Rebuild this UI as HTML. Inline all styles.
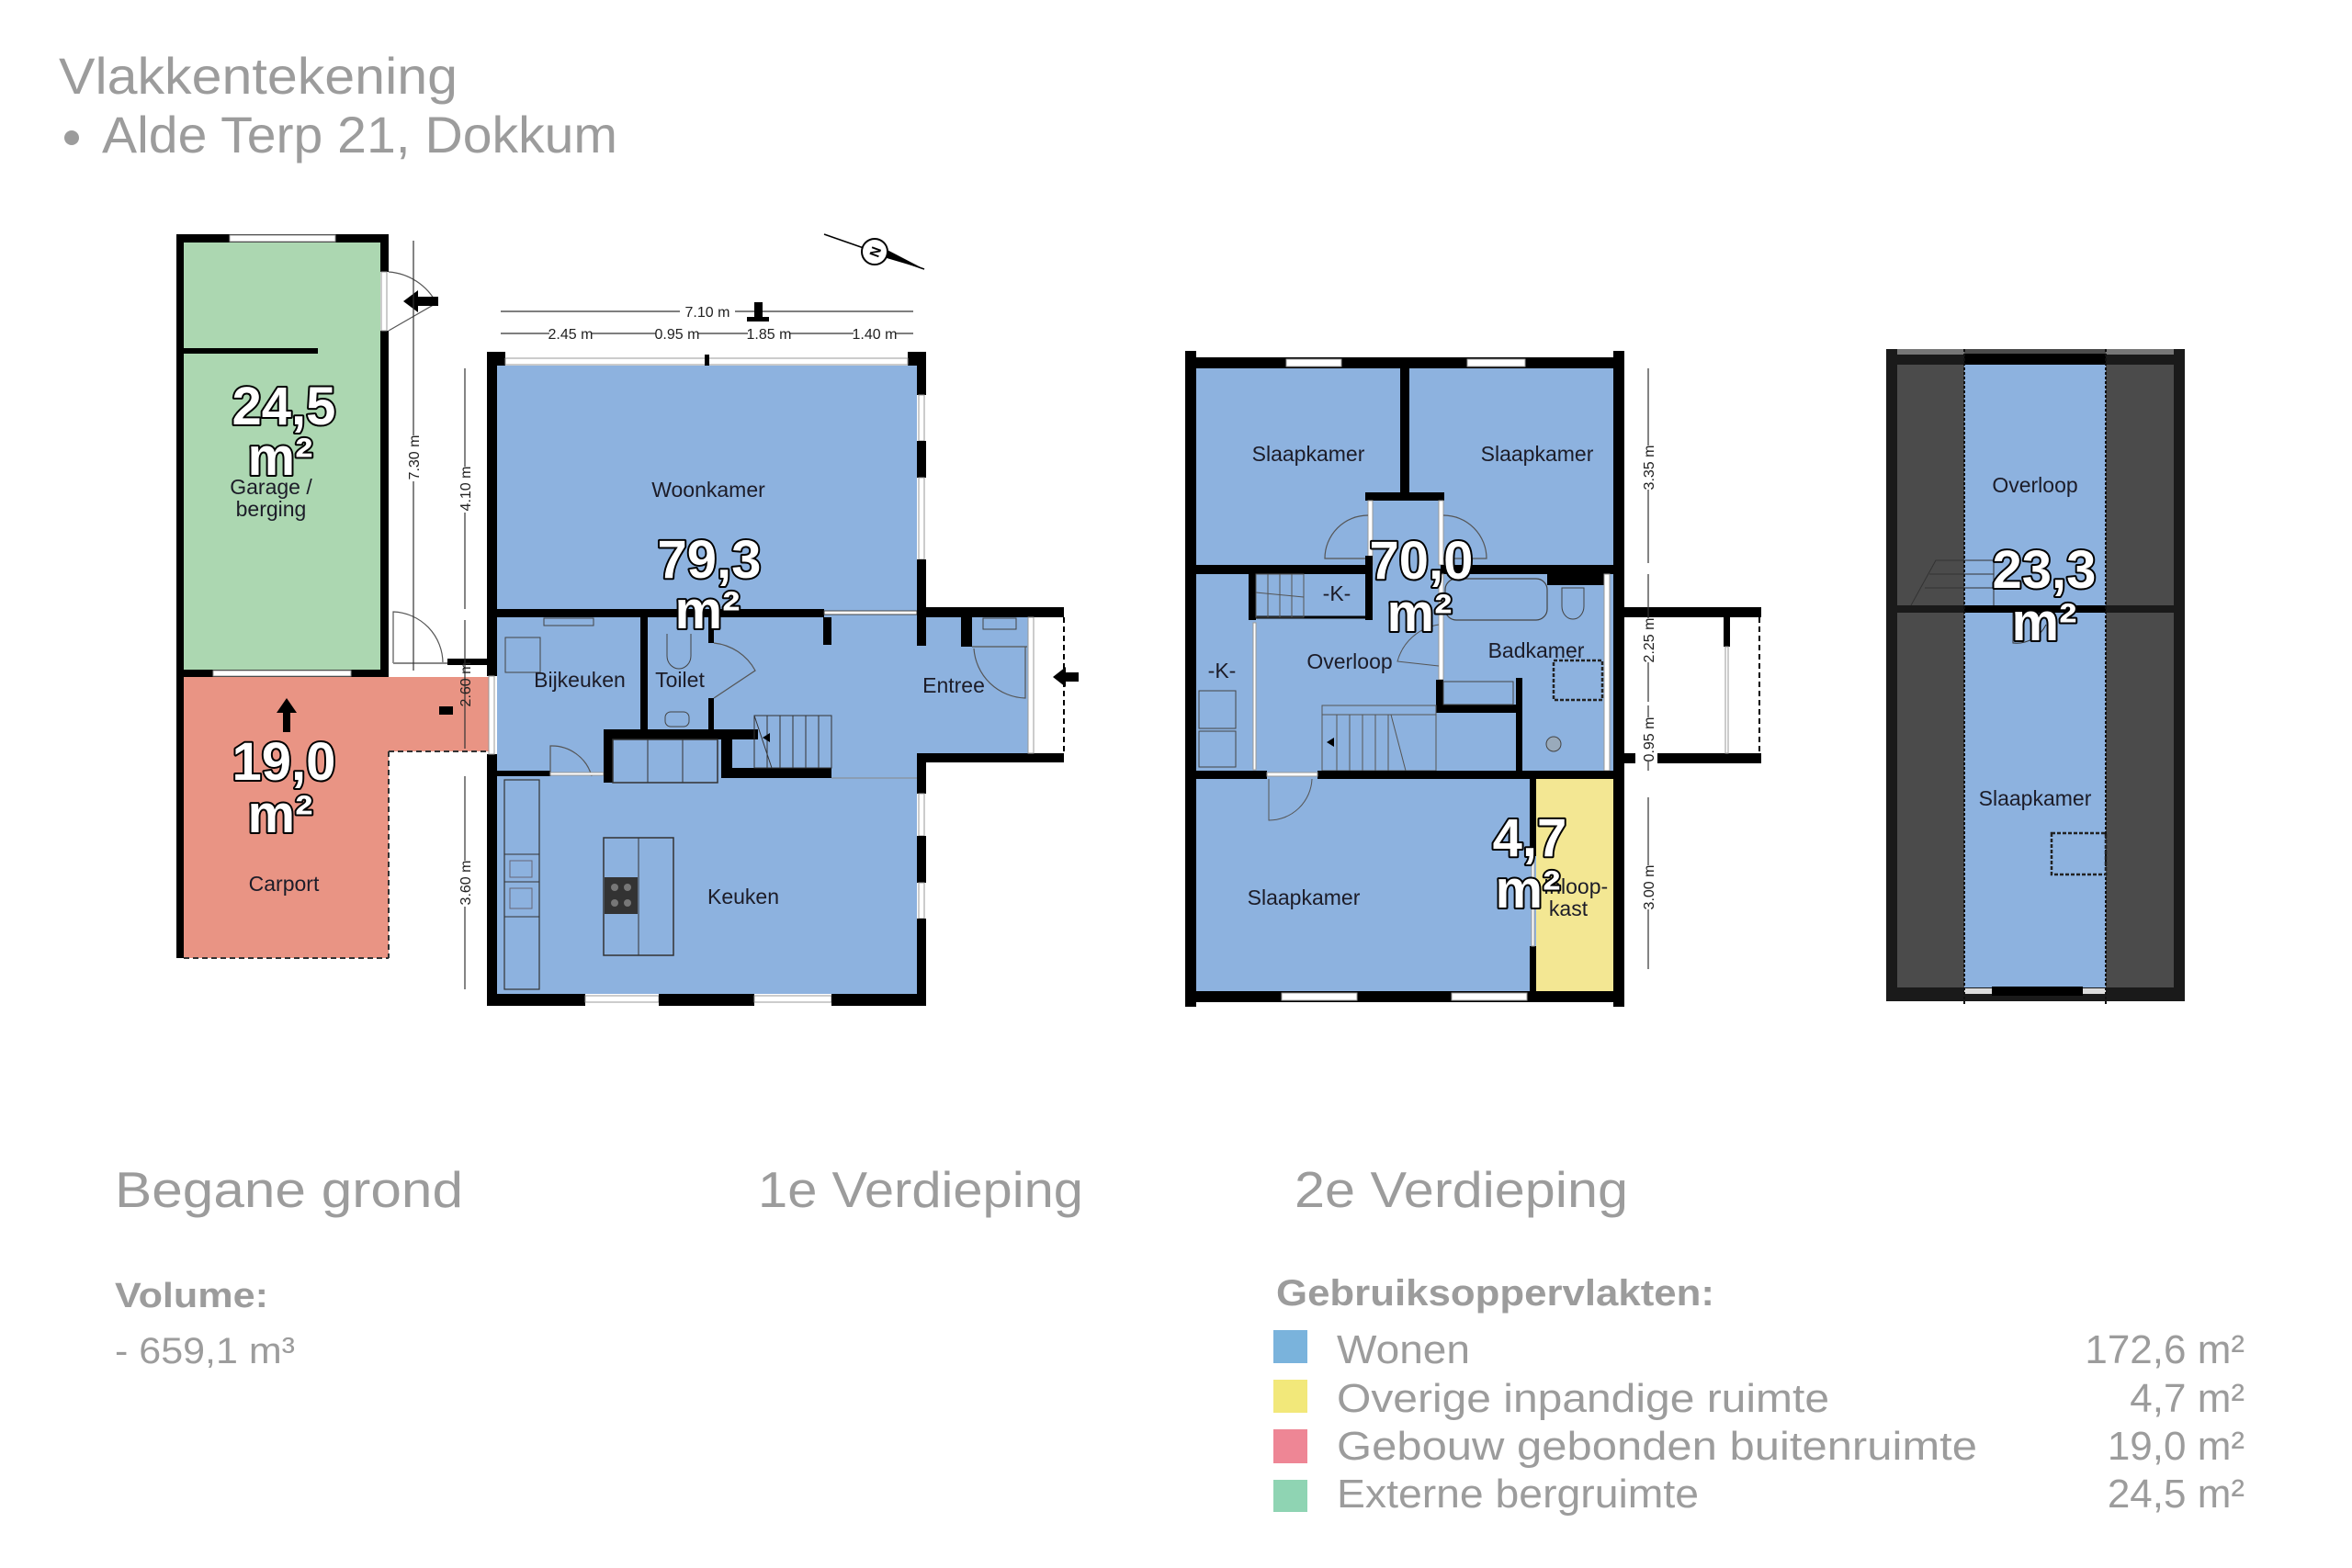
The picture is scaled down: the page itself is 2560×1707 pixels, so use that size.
<!DOCTYPE html>
<html><head><meta charset="utf-8"><style>
html,body{margin:0;padding:0;background:#fff;}
svg{display:block;}
.t{font-family:"Liberation Sans",sans-serif;}
.room{font-family:"Liberation Sans",sans-serif;font-size:23px;fill:#1c1c28;text-anchor:middle;}
.big{font-family:"Liberation Sans",sans-serif;font-weight:bold;font-size:58px;fill:#fff;stroke:#000;stroke-width:4;paint-order:stroke;stroke-linejoin:round;text-anchor:middle;}
.dim{font-family:"Liberation Sans",sans-serif;font-size:16px;fill:#222;}
.gl{fill:#fff;stroke:#999;stroke-width:1;}
</style></head><body>
<svg width="2560" height="1707" viewBox="0 0 2560 1707" xmlns="http://www.w3.org/2000/svg">
<rect width="2560" height="1707" fill="#fff"/>
<!-- Title -->
<text class="t" x="64" y="102" font-size="56" fill="#9c9c9c" textLength="434" lengthAdjust="spacingAndGlyphs">Vlakkentekening</text>
<circle cx="78" cy="150" r="8" fill="#9c9c9c"/>
<text class="t" x="111" y="166" font-size="56" fill="#9c9c9c" textLength="561" lengthAdjust="spacingAndGlyphs">Alde Terp 21, Dokkum</text>

<!-- ============ GROUND FLOOR ============ -->
<rect x="200" y="264" width="214" height="466" fill="#acd7b1"/>
<polygon points="200,737 532,737 532,818 423,818 423,1043 200,1043" fill="#e99484"/>
<path d="M423,818 H532 M423,818 V1043 M200,1043 H423" stroke="#333" stroke-width="2" stroke-dasharray="6,4" fill="none"/>
<!-- garage walls -->
<rect x="192" y="255" width="8" height="788" fill="#000"/>
<rect x="192" y="255" width="231" height="9" fill="#000"/>
<rect x="250" y="256" width="115" height="7" class="gl"/>
<rect x="414" y="255" width="9" height="41" fill="#000"/>
<rect x="414" y="360" width="9" height="377" fill="#000"/>
<rect x="415" y="296" width="6" height="64" class="gl"/>
<path d="M423,296 A64,64 0 0 1 475,330 L423,360" stroke="#555" stroke-width="1.2" fill="none"/>
<rect x="200" y="379" width="146" height="6" fill="#000"/>
<rect x="200" y="729" width="223" height="8" fill="#000"/>
<rect x="232" y="730" width="150" height="6" class="gl"/>
<!-- side door -->
<path d="M428,722 V666 A56,56 0 0 1 482,722" stroke="#555" stroke-width="1.2" fill="none"/>
<line x1="428" y1="722" x2="487" y2="722" stroke="#888" stroke-width="2"/>
<rect x="487" y="717" width="43" height="7" fill="#000"/>
<!-- arrows -->
<polygon points="439,328 455,316 455,323 477,323 477,333 455,333 455,340" fill="#000"/>
<polygon points="312,760 301,776 308,776 308,797 316,797 316,776 323,776" fill="#000"/>
<rect x="478" y="769" width="15" height="9" fill="#000"/>
<polygon points="1146,737 1160,726 1160,732 1174,732 1174,742 1160,742 1160,748" fill="#000"/>

<!-- main house fill -->
<polygon points="541,398 998,398 998,672 1122,672 1122,820 998,820 998,1082 541,1082" fill="#8db2df"/>
<!-- main walls -->
<rect x="530" y="383" width="11" height="353" fill="#000"/>
<rect x="530" y="821" width="11" height="274" fill="#000"/>
<rect x="532" y="736" width="6" height="85" class="gl"/>
<rect x="530" y="383" width="20" height="15" fill="#000"/>
<rect x="988" y="383" width="20" height="15" fill="#000"/>
<rect x="550" y="390" width="438" height="7" class="gl"/>
<rect x="767" y="386" width="5" height="12" fill="#000"/>
<!-- right wall -->
<rect x="998" y="383" width="10" height="47" fill="#000"/>
<rect x="1000" y="430" width="6" height="50" class="gl"/>
<rect x="998" y="480" width="10" height="40" fill="#000"/>
<rect x="1000" y="520" width="6" height="89" class="gl"/>
<rect x="998" y="609" width="10" height="63" fill="#000"/>
<rect x="998" y="672" width="10" height="31" fill="#000"/>
<rect x="998" y="820" width="10" height="44" fill="#000"/>
<rect x="1000" y="864" width="6" height="46" class="gl"/>
<rect x="998" y="910" width="10" height="51" fill="#000"/>
<rect x="1000" y="961" width="6" height="39" class="gl"/>
<rect x="998" y="1000" width="10" height="95" fill="#000"/>
<!-- bottom wall -->
<rect x="530" y="1082" width="107" height="13" fill="#000"/>
<rect x="637" y="1084" width="80" height="7" class="gl"/>
<rect x="717" y="1082" width="104" height="13" fill="#000"/>
<rect x="821" y="1084" width="84" height="7" class="gl"/>
<rect x="905" y="1082" width="103" height="13" fill="#000"/>
<!-- middle wall -->
<rect x="541" y="663" width="356" height="9" fill="#000"/>
<rect x="897" y="665" width="101" height="4" fill="#fff" stroke="#444" stroke-width="1"/>
<rect x="896" y="672" width="9" height="30" fill="#000"/>
<rect x="697" y="672" width="8" height="122" fill="#000"/>
<rect x="771" y="672" width="6" height="28" fill="#000"/>
<rect x="771" y="760" width="6" height="34" fill="#000"/>
<path d="M777,700 A58,58 0 0 1 822,730 L777,760" stroke="#555" stroke-width="1.2" fill="none"/>
<!-- entree extension -->
<rect x="998" y="661" width="160" height="11" fill="#000"/>
<rect x="998" y="820" width="160" height="10" fill="#000"/>
<rect x="1046" y="672" width="12" height="32" fill="#000"/>
<rect x="1119" y="672" width="6" height="148" class="gl"/>
<line x1="1158" y1="672" x2="1158" y2="820" stroke="#000" stroke-width="2" stroke-dasharray="6,4"/>
<path d="M1058,704 L1118,704 M1060,706 A58,58 0 0 0 1116,760 L1116,704" stroke="#555" stroke-width="1.2" fill="none"/>
<rect x="1070" y="673" width="36" height="12" fill="#8db2df" stroke="#444" stroke-width="1"/>
<!-- bijkeuken bits -->
<rect x="592" y="673" width="54" height="8" fill="none" stroke="#444" stroke-width="1"/>
<rect x="550" y="694" width="38" height="38" fill="none" stroke="#444" stroke-width="1"/>
<path d="M726,690 v24 a13,14 0 0 0 26,0 v-24" stroke="#444" fill="none"/>
<rect x="724" y="775" width="26" height="16" rx="6" fill="none" stroke="#444"/>
<rect x="541" y="839" width="58" height="6" fill="#000"/>
<path d="M599,845 V812 A45,45 0 0 1 644,845" stroke="#555" stroke-width="1.2" fill="none"/>
<rect x="599" y="841" width="58" height="3" class="gl"/>
<!-- counter block -->
<rect x="657" y="794" width="10" height="58" fill="#000"/>
<rect x="657" y="794" width="168" height="11" fill="#000"/>
<rect x="667" y="805" width="114" height="47" fill="#8db2df" stroke="#333" stroke-width="1.5"/>
<line x1="705" y1="805" x2="705" y2="852" stroke="#333"/>
<line x1="743" y1="805" x2="743" y2="852" stroke="#333"/>
<rect x="785" y="797" width="12" height="48" fill="#000"/>
<rect x="785" y="836" width="120" height="11" fill="#000"/>
<!-- stairs -->
<g stroke="#333" stroke-width="1" fill="none">
<rect x="821" y="779" width="84" height="57"/>
<line x1="835" y1="779" x2="835" y2="836"/><line x1="849" y1="779" x2="849" y2="836"/><line x1="863" y1="779" x2="863" y2="836"/><line x1="877" y1="779" x2="877" y2="836"/><line x1="891" y1="779" x2="891" y2="836"/>
<line x1="821" y1="779" x2="840" y2="836"/>
</g>
<polygon points="830,803 838,798 838,808" fill="#000"/>
<line x1="905" y1="847" x2="998" y2="847" stroke="#888" stroke-width="1"/>
<!-- kitchen -->
<rect x="549" y="849" width="38" height="228" fill="#8db2df" stroke="#333" stroke-width="1.2"/>
<line x1="549" y1="930" x2="587" y2="930" stroke="#333"/><line x1="549" y1="960" x2="587" y2="960" stroke="#333"/><line x1="549" y1="998" x2="587" y2="998" stroke="#333"/>
<rect x="555" y="937" width="24" height="18" fill="none" stroke="#667"/>
<rect x="555" y="967" width="24" height="22" fill="none" stroke="#667"/>
<rect x="657" y="912" width="76" height="128" fill="#8db2df" stroke="#333" stroke-width="1.5"/>
<line x1="695" y1="912" x2="695" y2="1040" stroke="#333"/>
<rect x="658" y="955" width="36" height="40" fill="#333"/>
<circle cx="669" cy="966" r="4" fill="#777"/><circle cx="683" cy="966" r="4" fill="#777"/><circle cx="669" cy="983" r="4" fill="#777"/><circle cx="683" cy="983" r="4" fill="#777"/>

<!-- dimension lines ground -->
<g stroke="#333" stroke-width="1.2">
<line x1="545" y1="339" x2="994" y2="339"/>
<line x1="545" y1="363" x2="994" y2="363"/>
<line x1="450" y1="262" x2="450" y2="730"/>
<line x1="506" y1="401" x2="506" y2="663"/>
<line x1="506" y1="675" x2="506" y2="815"/>
<line x1="506" y1="845" x2="506" y2="1077"/>
</g>
<rect x="740" y="330" width="60" height="18" fill="#fff"/>
<text class="dim" x="770" y="345" text-anchor="middle">7.10 m</text>
<rect x="821" y="329" width="9" height="20" fill="#000"/><rect x="813" y="345" width="24" height="5" fill="#000"/>
<rect x="598" y="354" width="46" height="18" fill="#fff"/><text class="dim" x="621" y="369" text-anchor="middle">2.45 m</text>
<rect x="714" y="354" width="46" height="18" fill="#fff"/><text class="dim" x="737" y="369" text-anchor="middle">0.95 m</text>
<rect x="814" y="354" width="46" height="18" fill="#fff"/><text class="dim" x="837" y="369" text-anchor="middle">1.85 m</text>
<rect x="929" y="354" width="46" height="18" fill="#fff"/><text class="dim" x="952" y="369" text-anchor="middle">1.40 m</text>
<rect x="441" y="474" width="18" height="50" fill="#fff"/><text class="dim" transform="translate(456,498) rotate(-90)" text-anchor="middle">7.30 m</text>
<rect x="497" y="508" width="18" height="50" fill="#fff"/><text class="dim" transform="translate(512,532) rotate(-90)" text-anchor="middle">4.10 m</text>
<text class="dim" transform="translate(512,745) rotate(-90)" text-anchor="middle">2.60 m</text>
<rect x="497" y="937" width="18" height="50" fill="#fff"/><text class="dim" transform="translate(512,961) rotate(-90)" text-anchor="middle">3.60 m</text>
<!-- compass -->
<line x1="897" y1="255" x2="1006" y2="293" stroke="#000" stroke-width="1.5"/>
<polygon points="955,278 1006,293 958,268" fill="#000"/>
<circle cx="952" cy="274" r="14" fill="#fff" stroke="#000" stroke-width="2"/>
<text class="t" x="952" y="280" font-size="15" font-weight="bold" text-anchor="middle" transform="rotate(-70 952 274)">N</text>

<!-- ground labels -->
<text class="big" x="309" y="462">24,5</text>
<text class="big" x="305" y="517">m²</text>
<text class="room" x="295" y="538">Garage /</text>
<text class="room" x="295" y="562">berging</text>
<text class="big" x="309" y="849">19,0</text>
<text class="big" x="305" y="906">m²</text>
<text class="room" x="309" y="970">Carport</text>
<text class="room" x="771" y="541">Woonkamer</text>
<text class="big" x="772" y="629">79,3</text>
<text class="big" x="770" y="684">m²</text>
<text class="room" x="631" y="748">Bijkeuken</text>
<text class="room" x="740" y="748">Toilet</text>
<text class="room" x="1038" y="754">Entree</text>
<text class="room" x="809" y="984">Keuken</text>

<!-- ============ FIRST FLOOR ============ -->
<rect x="1302" y="401" width="454" height="678" fill="#8db2df"/>
<rect x="1672" y="848" width="84" height="231" fill="#f3e793"/>
<!-- outer walls -->
<rect x="1290" y="382" width="12" height="714" fill="#000"/>
<rect x="1756" y="382" width="12" height="714" fill="#000"/>
<rect x="1290" y="389" width="478" height="12" fill="#000"/>
<rect x="1400" y="391" width="60" height="8" class="gl"/>
<rect x="1597" y="391" width="63" height="8" class="gl"/>
<rect x="1290" y="1079" width="478" height="12" fill="#000"/>
<rect x="1395" y="1081" width="82" height="8" class="gl"/>
<rect x="1580" y="1081" width="82" height="8" class="gl"/>
<!-- inner walls -->
<rect x="1524" y="401" width="10" height="140" fill="#000"/>
<rect x="1486" y="536" width="86" height="9" fill="#000"/>
<rect x="1489" y="545" width="5" height="70" class="gl"/>
<rect x="1566" y="545" width="5" height="70" class="gl"/>
<path d="M1489,608 H1442 A47,47 0 0 1 1489,561 M1571,561 A47,47 0 0 1 1618,608 H1571" stroke="#555" stroke-width="1.2" fill="none"/>
<rect x="1302" y="615" width="192" height="10" fill="#000"/>
<rect x="1568" y="615" width="188" height="10" fill="#000"/>
<rect x="1684" y="625" width="65" height="12" fill="#000"/>
<rect x="1486" y="605" width="8" height="70" fill="#000"/>
<rect x="1359" y="625" width="8" height="50" fill="#000"/>
<line x1="1367" y1="672" x2="1490" y2="672" stroke="#000" stroke-width="3"/>
<g stroke="#555" stroke-width="1" fill="none">
<rect x="1367" y="625" width="52" height="47"/>
<line x1="1380" y1="625" x2="1380" y2="672"/><line x1="1393" y1="625" x2="1393" y2="672"/><line x1="1406" y1="625" x2="1406" y2="672"/>
<line x1="1367" y1="645" x2="1419" y2="650"/>
</g>
<rect x="1364" y="678" width="3" height="160" class="gl"/>
<rect x="1305" y="752" width="40" height="41" fill="none" stroke="#444"/>
<rect x="1305" y="796" width="40" height="39" fill="none" stroke="#444"/>
<!-- bath -->
<rect x="1573" y="630" width="111" height="45" rx="12" fill="none" stroke="#444" stroke-width="1.2"/>
<path d="M1700,640 v20 a12,14 0 0 0 24,0 v-20 z" fill="none" stroke="#444"/>
<rect x="1566" y="625" width="5" height="115" class="gl"/>
<path d="M1566,680 A55,55 0 0 0 1521,720 L1566,725" stroke="#555" fill="none"/>
<rect x="1746" y="625" width="6" height="214" class="gl" />
<rect x="1563" y="740" width="8" height="36" fill="#000"/>
<rect x="1563" y="767" width="94" height="9" fill="#000"/>
<rect x="1571" y="742" width="76" height="25" fill="none" stroke="#444"/>
<rect x="1650" y="738" width="7" height="101" fill="#000"/>
<rect x="1691" y="719" width="53" height="43" fill="none" stroke="#222" stroke-width="2.5" stroke-dasharray="4,2"/>
<circle cx="1691" cy="810" r="8" fill="#9ab" stroke="#444"/>
<!-- stairs lower -->
<g stroke="#555" stroke-width="1" fill="none">
<rect x="1439" y="768" width="124" height="71"/>
<line x1="1439" y1="778" x2="1563" y2="778"/>
<line x1="1455" y1="778" x2="1455" y2="839"/><line x1="1469" y1="778" x2="1469" y2="839"/><line x1="1483" y1="778" x2="1483" y2="839"/><line x1="1497" y1="778" x2="1497" y2="839"/><line x1="1511" y1="778" x2="1511" y2="839"/>
<line x1="1514" y1="778" x2="1530" y2="839"/>
</g>
<polygon points="1444,808 1452,803 1452,813" fill="#000"/>
<!-- middle lower wall -->
<rect x="1302" y="839" width="77" height="9" fill="#000"/>
<rect x="1434" y="839" width="322" height="9" fill="#000"/>
<rect x="1379" y="841" width="55" height="4" class="gl"/>
<path d="M1381,848 V893 A47,47 0 0 0 1428,848" stroke="#555" fill="none"/>
<rect x="1665" y="848" width="7" height="84" fill="#000"/>
<rect x="1665" y="1030" width="7" height="49" fill="#000"/>
<rect x="1667" y="932" width="3" height="98" class="gl"/>
<!-- balcony -->
<rect x="1768" y="661" width="149" height="11" fill="#000"/>
<rect x="1768" y="820" width="12" height="11" fill="#000"/>
<rect x="1804" y="820" width="113" height="11" fill="#000"/>
<rect x="1876" y="672" width="7" height="32" fill="#000"/>
<rect x="1878" y="704" width="3" height="116" class="gl"/>
<line x1="1915" y1="672" x2="1915" y2="820" stroke="#000" stroke-width="2" stroke-dasharray="6,4"/>
<!-- dims -->
<g stroke="#333" stroke-width="1.2">
<line x1="1794" y1="401" x2="1794" y2="613"/>
<line x1="1794" y1="625" x2="1794" y2="764"/>
<line x1="1794" y1="768" x2="1794" y2="839"/>
<line x1="1794" y1="868" x2="1794" y2="1055"/>
</g>
<rect x="1785" y="485" width="18" height="48" fill="#fff"/><text class="dim" transform="translate(1800,509) rotate(-90)" text-anchor="middle">3.35 m</text>
<rect x="1785" y="673" width="18" height="48" fill="#fff"/><text class="dim" transform="translate(1800,697) rotate(-90)" text-anchor="middle">2.25 m</text>
<rect x="1785" y="781" width="18" height="48" fill="#fff"/><text class="dim" transform="translate(1800,805) rotate(-90)" text-anchor="middle">0.95 m</text>
<rect x="1785" y="942" width="18" height="48" fill="#fff"/><text class="dim" transform="translate(1800,966) rotate(-90)" text-anchor="middle">3.00 m</text>
<!-- labels -->
<text class="room" x="1424" y="502">Slaapkamer</text>
<text class="room" x="1673" y="502">Slaapkamer</text>
<text class="room" x="1455" y="654">-K-</text>
<text class="room" x="1330" y="738">-K-</text>
<text class="room" x="1469" y="728">Overloop</text>
<text class="room" x="1672" y="716">Badkamer</text>
<text class="room" x="1419" y="985">Slaapkamer</text>
<text class="room" x="1715" y="973">Inloop-</text>
<text class="room" x="1707" y="997">kast</text>
<text class="big" x="1547" y="630">70,0</text>
<text class="big" x="1545" y="687">m²</text>
<text class="big" x="1665" y="932">4,7</text>
<text class="big" x="1663" y="988">m²</text>

<!-- ============ ATTIC ============ -->
<rect x="2053" y="380" width="325" height="710" fill="#4b4b4b"/>
<rect x="2053" y="380" width="12" height="710" fill="#1a1a1a"/>
<rect x="2366" y="380" width="12" height="710" fill="#1a1a1a"/>
<rect x="2053" y="385" width="325" height="12" fill="#1a1a1a"/>
<rect x="2065" y="380" width="73" height="6" fill="#777"/>
<rect x="2292" y="380" width="74" height="6" fill="#777"/>
<rect x="2138" y="397" width="154" height="683" fill="#8db2df"/>
<rect x="2138" y="385" width="154" height="12" fill="#000"/>
<rect x="2053" y="659" width="325" height="8" fill="#1a1a1a"/>
<rect x="2138" y="659" width="154" height="8" fill="#000"/>
<rect x="2053" y="1075" width="325" height="15" fill="#1a1a1a"/>
<rect x="2138" y="1076" width="154" height="6" fill="#ddd"/>
<rect x="2168" y="1074" width="99" height="10" fill="#000"/>
<line x1="2138" y1="380" x2="2138" y2="1095" stroke="#111" stroke-width="2" stroke-dasharray="3,2"/>
<line x1="2292" y1="380" x2="2292" y2="1095" stroke="#111" stroke-width="2" stroke-dasharray="3,2"/>
<g stroke="#333" stroke-width="1" fill="none">
<path d="M2080,659 L2107,610 H2170 V659"/>
<line x1="2100" y1="625" x2="2170" y2="625"/><line x1="2095" y1="640" x2="2170" y2="640"/>
<path d="M2191,667 V700 A36,36 0 0 0 2227,680"/>
</g>
<rect x="2233" y="907" width="59" height="45" fill="none" stroke="#222" stroke-width="2.5" stroke-dasharray="4,2"/>
<text class="room" x="2215" y="536">Overloop</text>
<text class="room" x="2215" y="877">Slaapkamer</text>
<text class="big" x="2225" y="640">23,3</text>
<text class="big" x="2225" y="697">m²</text>

<!-- ============ BOTTOM TEXT ============ -->
<text class="t" x="125" y="1314" font-size="55" fill="#9c9c9c" textLength="379" lengthAdjust="spacingAndGlyphs">Begane grond</text>
<text class="t" x="825" y="1314" font-size="55" fill="#9c9c9c" textLength="354" lengthAdjust="spacingAndGlyphs">1e Verdieping</text>
<text class="t" x="1409" y="1314" font-size="55" fill="#9c9c9c" textLength="363" lengthAdjust="spacingAndGlyphs">2e Verdieping</text>
<text class="t" x="125" y="1423" font-size="38" font-weight="bold" fill="#9c9c9c" textLength="167" lengthAdjust="spacingAndGlyphs">Volume:</text>
<text class="t" x="125" y="1484" font-size="40" fill="#9c9c9c" textLength="196" lengthAdjust="spacingAndGlyphs">- 659,1 m³</text>
<text class="t" x="1389" y="1421" font-size="40" font-weight="bold" fill="#9c9c9c" textLength="477" lengthAdjust="spacingAndGlyphs">Gebruiksoppervlakten:</text>
<rect x="1386" y="1448" width="37" height="36" fill="#7ab3dc"/>
<rect x="1386" y="1502" width="37" height="36" fill="#f2e87a"/>
<rect x="1386" y="1556" width="37" height="37" fill="#ee8695"/>
<rect x="1386" y="1611" width="37" height="35" fill="#8fd4b3"/>
<g class="t" font-size="44" fill="#9c9c9c">
<text x="1455" y="1484" textLength="145" lengthAdjust="spacingAndGlyphs">Wonen</text>
<text x="1455" y="1537" textLength="536" lengthAdjust="spacingAndGlyphs">Overige inpandige ruimte</text>
<text x="1455" y="1589" textLength="697" lengthAdjust="spacingAndGlyphs">Gebouw gebonden buitenruimte</text>
<text x="1455" y="1641" textLength="394" lengthAdjust="spacingAndGlyphs">Externe bergruimte</text>
<text x="2443" y="1484" text-anchor="end">172,6 m²</text>
<text x="2443" y="1537" text-anchor="end">4,7 m²</text>
<text x="2443" y="1589" text-anchor="end">19,0 m²</text>
<text x="2443" y="1641" text-anchor="end">24,5 m²</text>
</g>
</svg>
</body></html>
